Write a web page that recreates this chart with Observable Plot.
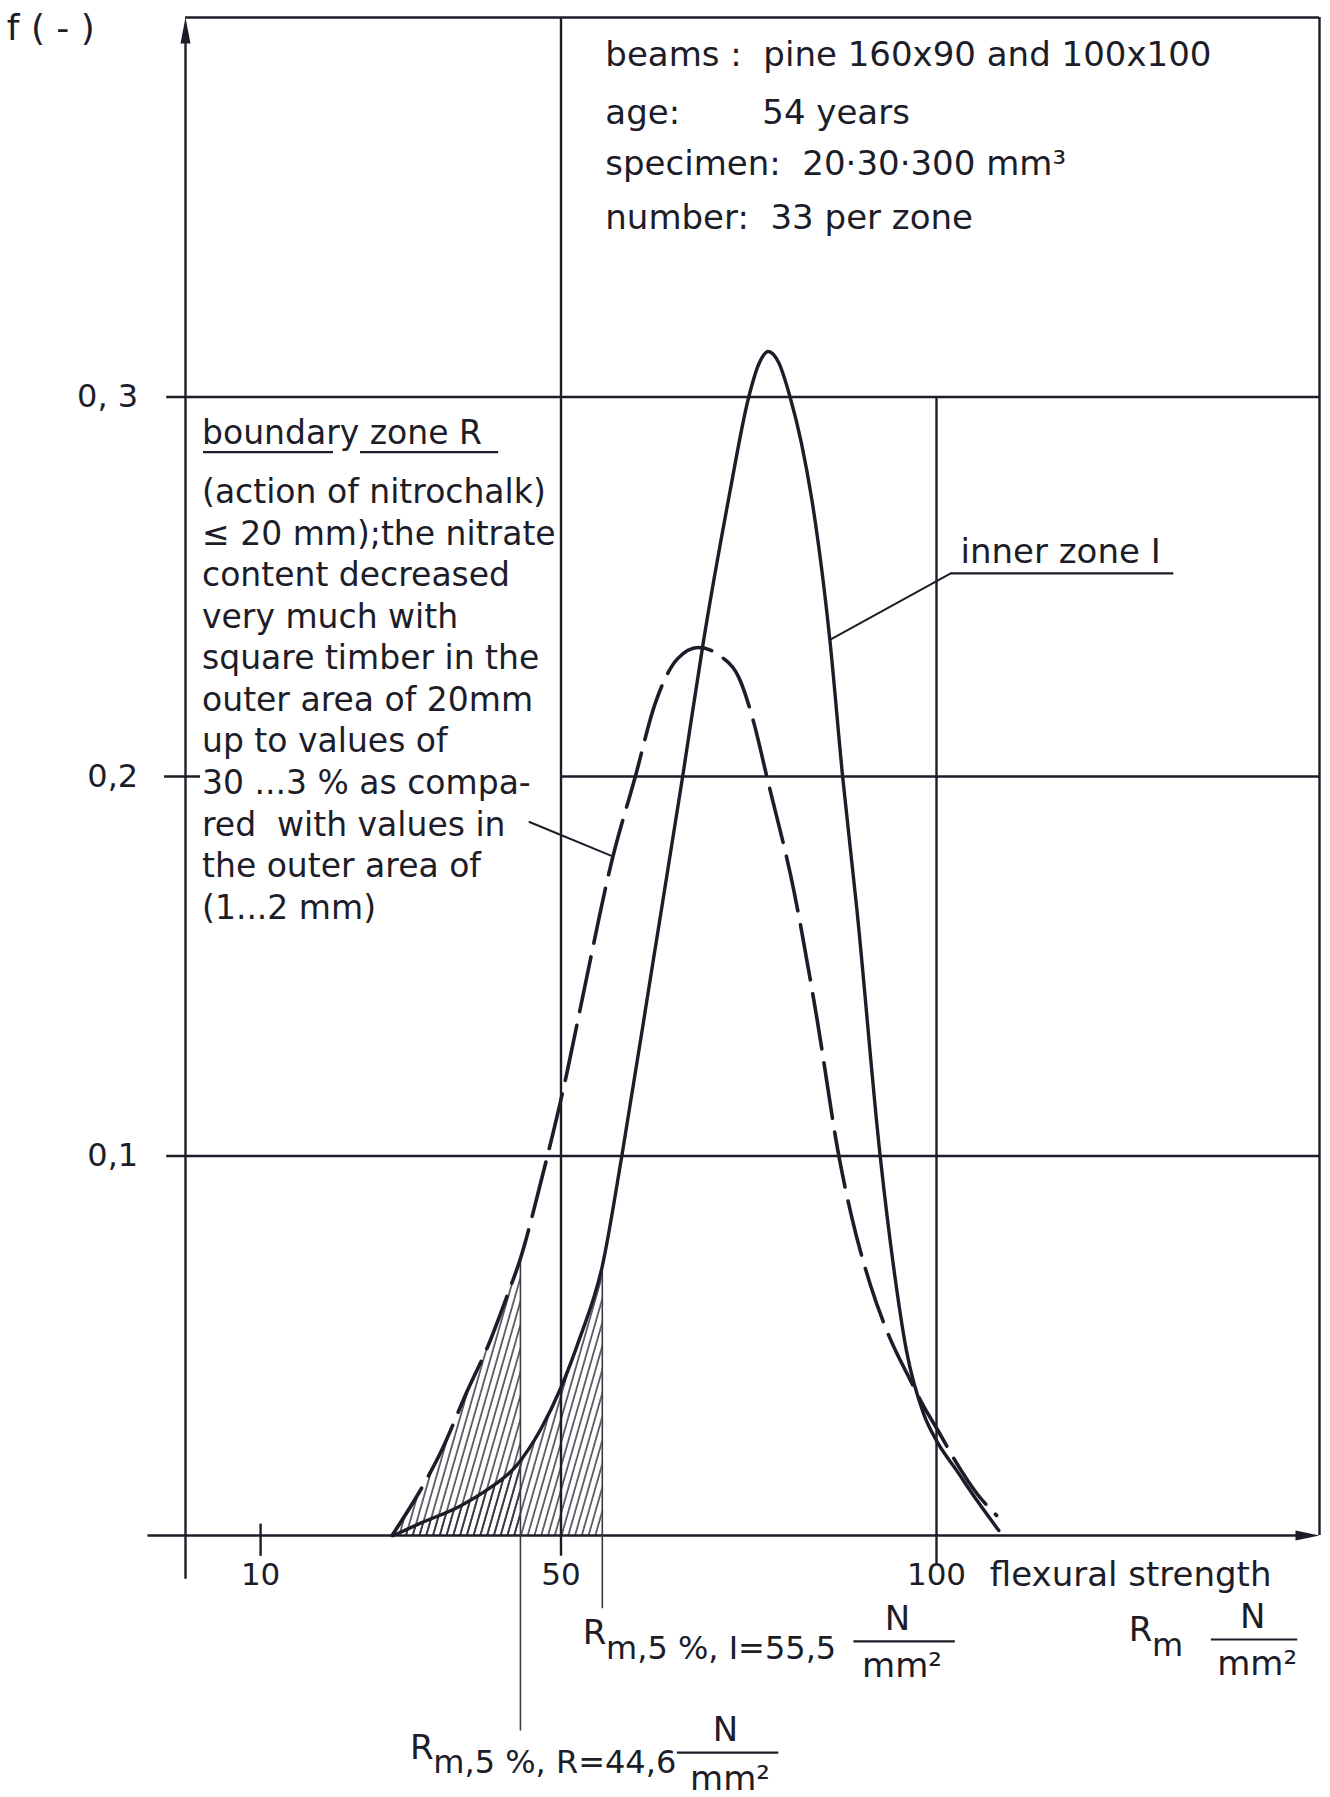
<!DOCTYPE html>
<html>
<head>
<meta charset="utf-8">
<script src="https://cdn.jsdelivr.net/npm/d3@7"></script>
<script src="https://cdn.jsdelivr.net/npm/@observablehq/plot@0.6"></script>
<style>
  html, body { margin: 0; padding: 0; background: #fff; overflow: hidden; }
  svg { display: block; }
</style>
</head>
<body>
<div id="chart"></div>
<script>
// ---------------- data ----------------
// boundary zone R (dashed curve): flexural strength [N/mm²] vs frequency f
const boundaryStrength = [27.5, 31, 34, 37.5, 40.5, 42.8, 44.6, 47.3, 50.8, 53.0, 56.8, 59.9, 62.5, 65.5, 68.3, 71.0, 73.7, 75.7, 77.4, 81.0, 84.1, 87.0, 88.7, 91.2, 93.8, 96.5, 98.3, 100.1, 102.7, 105.4, 108.0];
const boundaryDensity  = [0, 0.011, 0.022, 0.038, 0.051, 0.063, 0.073, 0.093, 0.122, 0.143, 0.178, 0.200, 0.219, 0.231, 0.234, 0.232, 0.226, 0.214, 0.200, 0.170, 0.136, 0.100, 0.084, 0.066, 0.052, 0.041, 0.034, 0.028, 0.019, 0.011, 0.0053];
// inner zone I (solid curve)
const innerStrength = [27.7, 31, 36.6, 40, 44.1, 47.3, 50, 52.5, 55.5, 58.1, 62, 66.2, 69, 72.4, 75, 76.3, 77.6, 79.0, 80.5, 82.0, 83.4, 85.8, 87.5, 89.4, 92.5, 94.3, 96, 98.3, 100, 102.7, 105.4, 108.3];
const innerDensity  = [0, 0.003, 0.0078, 0.0118, 0.0185, 0.028, 0.039, 0.052, 0.071, 0.100, 0.148, 0.200, 0.236, 0.274, 0.300, 0.3085, 0.312, 0.309, 0.300, 0.288, 0.273, 0.236, 0.200, 0.165, 0.100, 0.0706, 0.0487, 0.032, 0.025, 0.0171, 0.0092, 0.0013];
// 5 % fractiles
const fractileBoundary = 44.6;
const fractileInner = 55.5;
// ticks
const xTickValues = [10, 50, 100];
const xTickLabels = ["10", "50", "100"];
const yTickValues = [0.1, 0.2, 0.3];
const yTickLabels = ["0,1", "0,2", "0, 3"];
// texts
const infoLines = ["beams :  pine 160x90 and 100x100", "age:", "specimen:  20·30·300 mm³", "number:  33 per zone"];
const infoAge = "54 years";
const boundaryTitle = "boundary zone R";
const boundaryNote = ["(action of nitrochalk)", "≤ 20 mm);the nitrate", "content decreased", "very much with", "square timber in the", "outer area of 20mm", "up to values of", "30 ...3 % as compa-", "red  with values in", "the outer area of", "(1...2 mm)"];
const innerTitle = "inner zone I";
const xTitle = "flexural strength";
const yTitle = "f ( - )";
const labelInnerSub = "m,5 %, I=55,5";
const labelBoundarySub = "m,5 %, R=44,6";

// ---------------- tables ----------------
const boundary = boundaryStrength.map((x, i) => ({x, y: boundaryDensity[i]}));
const inner = innerStrength.map((x, i) => ({x, y: innerDensity[i]}));
const topR = boundary.find(d => d.x === fractileBoundary).y;
const topI = inner.find(d => d.x === fractileInner).y;

// ---------------- layout (annotation placement, data units) ----------------
const ink = "#1d1d29";
const font = "DejaVu Sans";
const curve = "monotone-x";
const X_MAX = 151, Y_MAX = 0.4;

const hRules = [
  {y: Y_MAX, x1: 0, x2: X_MAX},          // top border
  {y: 0, x1: -5, x2: X_MAX - 2},         // x axis
  ...yTickValues.flatMap(v => v === 0.2
    ? [{y: v, x1: -2.8, x2: 2}, {y: v, x1: 50, x2: X_MAX}]
    : [{y: v, x1: -2.5, x2: X_MAX}])
];
const xTickExtent = {10: [-0.0055, 0.003], 50: [-0.0055, Y_MAX], 100: [-0.0075, 0.3]};
const vRules = [
  {x: 0, y1: -0.0115, y2: Y_MAX - 0.004}, // y axis
  {x: X_MAX, y1: 0, y2: Y_MAX},           // right border
  ...xTickValues.map(v => ({x: v, y1: xTickExtent[v][0], y2: xTickExtent[v][1]}))
];
const fractileRules = [
  {x: fractileBoundary, y1: -0.0515, y2: topR},
  {x: fractileInner, y1: -0.0193, y2: topI}
];
const leaderInner = [{x: 101.9, y: 0.2535}, {x: 85.8, y: 0.236}];
const leaderBoundary = [{x: 45.8, y: 0.188}, {x: 56.8, y: 0.179}];
const underlines = [
  {y: 0.2855, x1: 2.4, x2: 19.7},
  {y: 0.2855, x1: 23.3, x2: 41.7},
  {y: 0.2535, x1: 101.9, x2: 131.6}
];
const fractionBars = [
  {y: -0.0279, x1: 89.0, x2: 102.5},
  {y: -0.0572, x1: 65.5, x2: 79.0},
  {y: -0.0274, x1: 136.6, x2: 148.1}
];
const infoY = [0.390, 0.3749, 0.3613, 0.3471];

const startTexts = [
  ...infoLines.map((t, i) => ({x: 55.9, y: infoY[i], text: t})),
  {x: 76.8, y: infoY[1], text: infoAge},
  {x: 103.2, y: 0.259, text: innerTitle},
  {x: 107.1, y: -0.0105, text: xTitle},
  {x: 52.9, y: -0.0258, text: "R"},
  {x: 29.9, y: -0.0561, text: "R"},
  {x: 125.6, y: -0.0250, text: "R"}
];
const subTexts = [
  {x: 56.0, y: -0.0298, text: labelInnerSub},
  {x: 33.0, y: -0.0598, text: labelBoundarySub},
  {x: 128.7, y: -0.0290, text: "m"}
];
const fractionTexts = [
  {x: 94.8, y: -0.0221, text: "N"}, {x: 95.4, y: -0.0345, text: "mm²"},
  {x: 71.9, y: -0.0514, text: "N"}, {x: 72.5, y: -0.0643, text: "mm²"},
  {x: 142.1, y: -0.0216, text: "N"}, {x: 142.7, y: -0.0340, text: "mm²"}
];

// arrow heads (tip at the anchor point)
const arrowUp = {draw(ctx) { ctx.moveTo(0, 0); ctx.lineTo(5, 26); ctx.lineTo(-5, 26); ctx.closePath(); }};
const arrowRight = {draw(ctx) { ctx.moveTo(0, 0); ctx.lineTo(-24, 5); ctx.lineTo(-24, -5); ctx.closePath(); }};

const plot = Plot.plot({
  width: 1330,
  height: 1797,
  marginLeft: 185,
  marginRight: 11,
  marginTop: 17,
  marginBottom: 262,
  x: {domain: [0, X_MAX], axis: null},
  y: {domain: [0, Y_MAX], axis: null},
  style: {background: "#fff", color: ink, fontFamily: font, overflow: "visible"},
  marks: [
    // hatched 5 % tails
    Plot.areaY(boundary, {x: "x", y: "y", curve, fill: "url(#hatch)"}),
    Plot.areaY(inner, {x: "x", y: "y", curve, fill: "url(#hatch)"}),
    // frame, grid, axes
    Plot.ruleY(hRules, {y: "y", x1: "x1", x2: "x2", stroke: ink, strokeWidth: 2.4}),
    Plot.ruleX(vRules, {x: "x", y1: "y1", y2: "y2", stroke: ink, strokeWidth: 2.4}),
    Plot.dot([{x: 0, y: Y_MAX}], {x: "x", y: "y", symbol: arrowUp, fill: ink, stroke: "none"}),
    Plot.dot([{x: X_MAX, y: 0}], {x: "x", y: "y", symbol: arrowRight, fill: ink, stroke: "none"}),
    // fractile lines
    Plot.ruleX(fractileRules, {x: "x", y1: "y1", y2: "y2", stroke: "#3a3a44", strokeWidth: 1.6}),
    // curves
    Plot.line(boundary, {x: "x", y: "y", curve, stroke: ink, strokeWidth: 3.6, strokeDasharray: "56,14"}),
    Plot.line(inner, {x: "x", y: "y", curve, stroke: ink, strokeWidth: 3.4}),
    // leaders and underlines
    Plot.line(leaderInner, {x: "x", y: "y", stroke: ink, strokeWidth: 2}),
    Plot.line(leaderBoundary, {x: "x", y: "y", stroke: ink, strokeWidth: 2}),
    Plot.ruleY(underlines, {y: "y", x1: "x1", x2: "x2", stroke: ink, strokeWidth: 2.2}),
    Plot.ruleY(fractionBars, {y: "y", x1: "x1", x2: "x2", stroke: ink, strokeWidth: 2.2}),
    // tick labels
    Plot.text(xTickValues, {x: d => d, y: -0.0105, text: (d, i) => xTickLabels[i], fontSize: 31, fontFamily: font, fill: ink, textAnchor: "middle"}),
    Plot.text(yTickValues, {x: -6.3, y: d => d, text: (d, i) => yTickLabels[i], fontSize: 32, fontFamily: font, fill: ink, textAnchor: "end"}),
    Plot.text([yTitle], {x: -23.8, y: 0.397, text: d => d, fontSize: 36, fontFamily: font, fill: ink, textAnchor: "start"}),
    // annotations
    Plot.text(startTexts, {x: "x", y: "y", text: "text", fontSize: 34, fontFamily: font, fill: ink, textAnchor: "start"}),
    Plot.text(subTexts, {x: "x", y: "y", text: "text", fontSize: 32, fontFamily: font, fill: ink, textAnchor: "start"}),
    Plot.text(fractionTexts, {x: "x", y: "y", text: "text", fontSize: 34, fontFamily: font, fill: ink, textAnchor: "middle"}),
    Plot.text([boundaryTitle], {x: 2.2, y: 0.2905, text: d => d, fontSize: 33, fontFamily: font, fill: ink, textAnchor: "start"}),
    Plot.text([boundaryNote.join("\n")], {x: 2.2, y: 0.2208, text: d => d, fontSize: 33, lineHeight: 1.26, lineAnchor: "middle", fontFamily: font, fill: ink, textAnchor: "start"})
  ]
});

// hatch pattern + clipping of the hatched areas at the 5 % fractiles
const svg = d3.select(plot);
const defs = svg.insert("defs", ":first-child");
const pat = defs.append("pattern")
  .attr("id", "hatch")
  .attr("patternUnits", "userSpaceOnUse")
  .attr("width", 6.5).attr("height", 60)
  .attr("patternTransform", "rotate(16)");
pat.append("line")
  .attr("x1", 1).attr("y1", -5).attr("x2", 1).attr("y2", 65)
  .attr("stroke", "#2b2b35").attr("stroke-width", 1.4);
const xs = plot.scale("x");
[["clipR", fractileBoundary], ["clipI", fractileInner]].forEach(([id, v]) => {
  defs.append("clipPath").attr("id", id).attr("clipPathUnits", "userSpaceOnUse")
    .append("rect").attr("x", 0).attr("y", 0).attr("width", xs.apply(v)).attr("height", 1797);
});
const areas = plot.querySelectorAll('g[aria-label="area"]');
if (areas[0]) areas[0].setAttribute("clip-path", "url(#clipR)");
if (areas[1]) areas[1].setAttribute("clip-path", "url(#clipI)");

document.getElementById("chart").appendChild(plot);
</script>
</body>
</html>
